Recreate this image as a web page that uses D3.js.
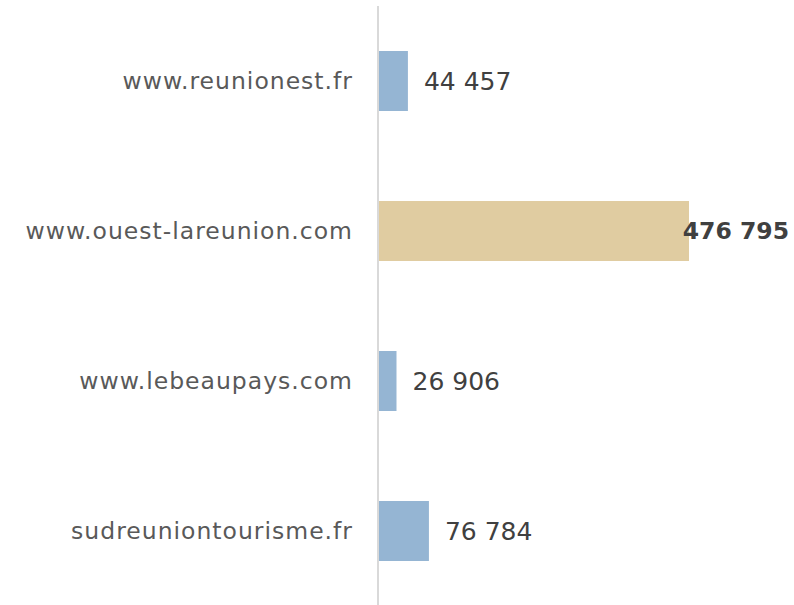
<!doctype html>
<html>
<head>
  <meta charset="utf-8">
  <script src="https://d3js.org/d3.v7.min.js"></script>
  <style>
    body { margin: 0; background: #fff; }
    text { font-family: "DejaVu Sans", sans-serif; }
  </style>
</head>
<body>
  <div id="chart"></div>
  <script>
    // data
    var sites = ["www.reunionest.fr", "www.ouest-lareunion.com", "www.lebeaupays.com", "sudreuniontourisme.fr"];
    var visits = [44457, 476795, 26906, 76784];
    var highlight = "www.ouest-lareunion.com";

    var W = 794, H = 605;
    var axisX = 379;

    var svg = d3.select("#chart").append("svg")
      .attr("width", W)
      .attr("height", H);

    var y = d3.scaleBand()
      .domain(sites)
      .range([6, 606])
      .paddingInner(0.6)
      .paddingOuter(0.3);

    var x = d3.scaleLinear()
      .domain([0, 476795])
      .range([axisX, 689]);

    var fmt = function (v) { return d3.format(",")(v).replace(/,/g, " "); };

    // bars
    svg.selectAll("rect.bar")
      .data(sites)
      .enter().append("rect")
      .attr("class", "bar")
      .attr("x", x(0))
      .attr("y", function (d) { return y(d); })
      .attr("width", function (d, i) { return x(visits[i]) - x(0); })
      .attr("height", y.bandwidth())
      .attr("fill", function (d) { return d == highlight ? "#e0cca1" : "#95b5d3"; });

    // vertical axis line
    svg.append("line")
      .attr("x1", axisX - 1).attr("x2", axisX - 1)
      .attr("y1", 6).attr("y2", H)
      .attr("stroke", "#d9d9d9")
      .attr("stroke-width", 2);

    // category labels
    svg.selectAll("text.cat")
      .data(sites)
      .enter().append("text")
      .attr("class", "cat")
      .attr("x", 353)
      .attr("y", function (d) { return y(d) + y.bandwidth() / 2; })
      .attr("dy", "0.35em")
      .attr("text-anchor", "end")
      .attr("fill", "#595959")
      .style("font-size", "23.5px")
      .style("letter-spacing", "1px")
      .text(function (d) { return d; });

    // value labels
    svg.selectAll("text.val")
      .data(sites)
      .enter().append("text")
      .attr("class", "val")
      .attr("x", function (d, i) { return d == highlight ? 789 : x(visits[i]) + 16; })
      .attr("y", function (d) { return y(d) + y.bandwidth() / 2; })
      .attr("dy", "0.35em")
      .attr("text-anchor", function (d) { return d == highlight ? "end" : "start"; })
      .attr("fill", "#404040")
      .style("font-size", function (d) { return d == highlight ? "23.5px" : "25px"; })
      .style("font-weight", function (d) { return d == highlight ? "bold" : "normal"; })
      .text(function (d, i) { return fmt(visits[i]); });
  </script>
</body>
</html>
